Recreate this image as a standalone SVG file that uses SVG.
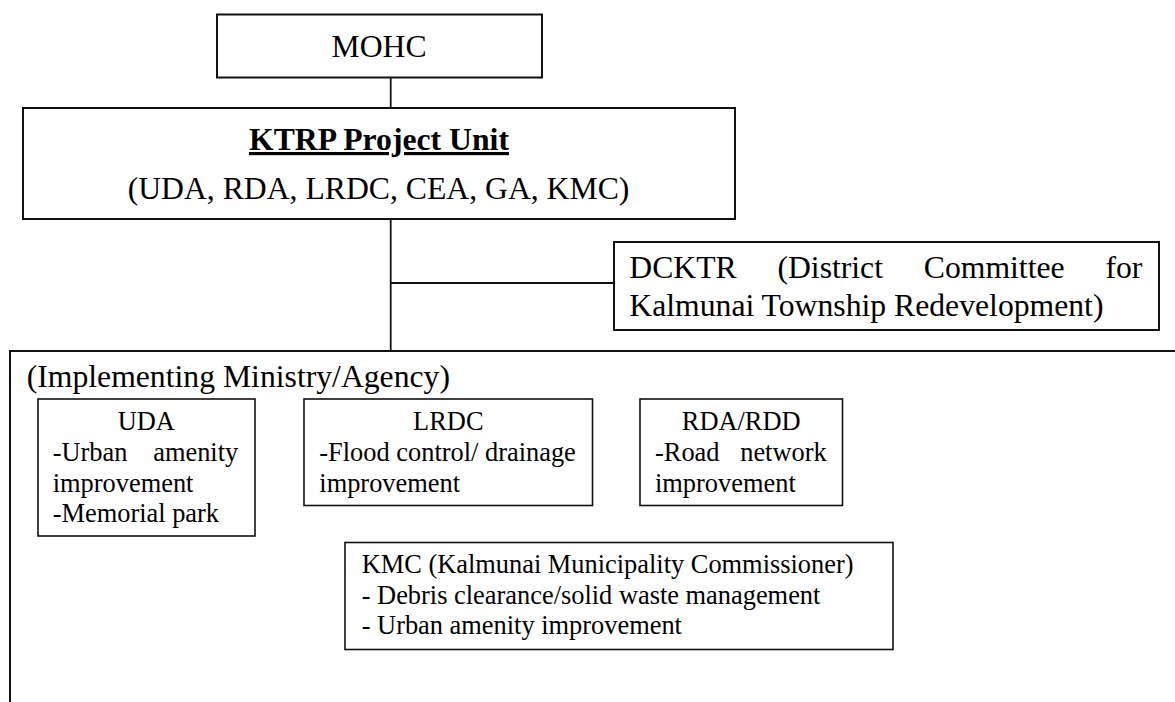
<svg xmlns="http://www.w3.org/2000/svg" width="1175" height="702" viewBox="0 0 1175 702">
  <style>
    .box { fill: #ffffff; stroke: #111111; stroke-width: 2; }
    .sub { fill: #ffffff; stroke: #111111; stroke-width: 1.6; }
    .link { fill: none; stroke: #111111; stroke-width: 1.8; }
    text { font-family: "Liberation Serif", "Times New Roman", serif; fill: #000000; }
    .big { font-size: 31.7px; }
    .small { font-size: 26.4px; }
    .mid { text-anchor: middle; }
    .title { font-weight: bold; text-decoration: underline; }
  </style>

  <!-- connectors -->
  <g id="connectors">
    <line class="link" x1="390.7" y1="78" x2="390.7" y2="108"/>
    <line class="link" x1="390.7" y1="219" x2="390.7" y2="351"/>
    <line class="link" x1="390.7" y1="283" x2="614" y2="283"/>
  </g>

  <!-- top ministry -->
  <g id="mohc">
    <rect class="box" x="217" y="14.5" width="325" height="63"/>
    <text class="big mid" x="379" y="57.3">MOHC</text>
  </g>

  <!-- project unit -->
  <g id="ktrp">
    <rect class="box" x="23" y="108" width="712" height="111"/>
    <text class="big mid title" x="379" y="150">KTRP Project Unit</text>
    <text class="big mid" x="378.5" y="199.3">(UDA, RDA, LRDC, CEA, GA, KMC)</text>
  </g>

  <!-- district committee -->
  <g id="dcktr">
    <rect class="box" x="614" y="242" width="545" height="88"/>
    <text class="big" y="278.3"><tspan x="629.3">DCKTR</tspan><tspan x="777.4">(District</tspan><tspan x="923.8">Committee</tspan><tspan x="1105.4">for</tspan></text>
    <text class="big" x="629.3" y="315.5">Kalmunai Township Redevelopment)</text>
  </g>

  <!-- implementing agencies frame (continues past the right and bottom edges) -->
  <g id="implementing">
    <path class="link" d="M10,702 V351 H1175" style="stroke-width:2"/>
    <text class="big" x="26.7" y="386.7">(Implementing Ministry/Agency)</text>
  </g>

  <g id="uda">
    <rect class="sub" x="38" y="399" width="217" height="137"/>
    <text class="small mid" x="146.3" y="430">UDA</text>
    <text class="small" y="460.7"><tspan x="52.7">-Urban</tspan><tspan x="153.2">amenity</tspan></text>
    <text class="small" x="52.7" y="491.5">improvement</text>
    <text class="small" x="52.7" y="521.7">-Memorial park</text>
  </g>

  <g id="lrdc">
    <rect class="sub" x="304" y="399" width="288.5" height="106.5"/>
    <text class="small mid" x="448.3" y="430">LRDC</text>
    <text class="small" x="319.3" y="460.7">-Flood control/ drainage</text>
    <text class="small" x="319.3" y="491.5">improvement</text>
  </g>

  <g id="rda">
    <rect class="sub" x="640" y="399" width="202.5" height="106.5"/>
    <text class="small mid" x="741.2" y="430">RDA/RDD</text>
    <text class="small" y="460.7"><tspan x="655">-Road</tspan><tspan x="740.2">network</tspan></text>
    <text class="small" x="655" y="491.5">improvement</text>
  </g>

  <g id="kmc">
    <rect class="sub" x="345" y="542.5" width="548" height="107"/>
    <text class="small" x="361.7" y="573.3">KMC (Kalmunai Municipality Commissioner)</text>
    <text class="small" x="361.7" y="604">- Debris clearance/solid waste management</text>
    <text class="small" x="361.7" y="634">- Urban amenity improvement</text>
  </g>
</svg>
